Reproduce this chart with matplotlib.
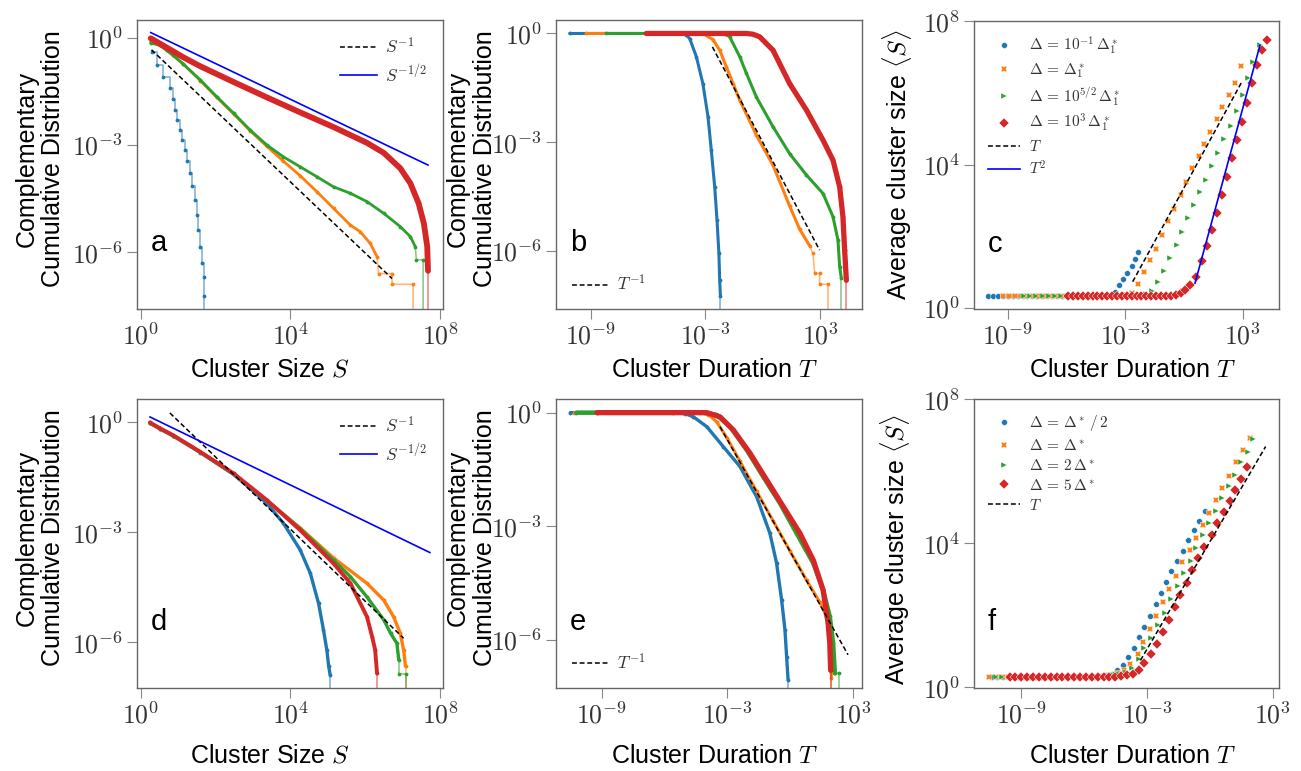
import numpy as np
import matplotlib.pyplot as plt
from matplotlib.ticker import FixedLocator, FuncFormatter, NullLocator

plt.rcParams['font.family'] = ['Liberation Sans', 'DejaVu Sans']
plt.rcParams['mathtext.fontset'] = 'cm'

C_BLUE, C_ORANGE, C_GREEN, C_RED = '#1f77b4', '#ff7f0e', '#2ca02c', '#d62728'

# ---------------- panel a : CCDF of cluster size (log10 values) ----------------
a_blue_logS = [0.30, 0.43, 0.60, 0.78, 0.86, 0.92, 0.98, 1.05, 1.11, 1.18, 1.25, 1.32, 1.38,
               1.45, 1.50, 1.54, 1.58, 1.63, 1.69, 1.69, 1.69]
a_blue_logP = [-0.39, -0.76, -1.09, -1.41, -1.72, -2.02, -2.30, -2.58, -2.86, -3.14, -3.46, -3.79,
               -4.15, -4.54, -4.95, -5.38, -5.85, -6.31, -6.68, -7.22, -12]
a_orange_logS = [0.27, 0.52, 0.70, 0.87, 1.14, 1.59, 2.03, 2.48, 2.92, 3.37, 3.81, 4.26, 4.71,
                 5.15, 5.60, 5.86, 6.13, 6.31, 6.35, 6.71, 6.71, 7.27, 7.27]
a_orange_logP = [-0.11, -0.22, -0.36, -0.50, -0.74, -1.20, -1.67, -2.13, -2.60, -3.04, -3.45,
                 -3.86, -4.31, -4.77, -5.24, -5.42, -5.75, -6.12, -6.59, -6.59, -6.89, -6.89, -12]
a_green_logS = [0.27, 0.52, 0.70, 0.87, 1.14, 1.59, 2.03, 2.48, 2.92, 3.37, 3.81, 4.26, 4.71,
                5.15, 5.60, 6.04, 6.49, 6.93, 7.20, 7.33, 7.36, 7.54, 7.54]
a_green_logP = [-0.15, -0.22, -0.36, -0.50, -0.74, -1.18, -1.65, -2.11, -2.58, -3.00, -3.33,
                -3.61, -3.89, -4.17, -4.35, -4.58, -4.91, -5.28, -5.56, -5.84, -6.21, -6.21, -12]
a_red_logS = [0.27, 0.70, 1.14, 1.59, 2.48, 3.37, 4.26, 5.15, 6.04, 6.49, 6.93, 7.20, 7.42,
              7.56, 7.65, 7.67, 7.67]
a_red_logP = [-0.02, -0.28, -0.55, -0.80, -1.24, -1.67, -2.09, -2.50, -2.94, -3.22, -3.65, -4.07,
              -4.63, -5.19, -5.84, -6.51, -12]
a_ref1_logS, a_ref1_logP = [0.29, 6.71], [-0.34, -6.73]
a_ref2_logS, a_ref2_logP = [0.27, 7.67], [0.14, -3.56]

# ---------------- panel b : CCDF of cluster duration ----------------
b_blue_logT = [-10.10, -4.35, -4.00, -3.82, -3.47, -3.13, -2.86, -2.69, -2.51, -2.39, -2.29,
               -2.25, -2.21, -2.21]
b_blue_logP = [0, 0, -0.04, -0.14, -0.64, -1.38, -2.30, -3.21, -4.23, -5.14, -6.06, -6.80,
               -7.24, -12]
b_orange_logT = [-9.23, -3.13, -2.60, -2.25, -1.90, -1.55, -1.20, -0.33, 0.54, 1.41, 1.94, 2.46,
                 2.63, 2.72, 2.98, 2.98, 3.42, 3.42]
b_orange_logP = [0, 0, -0.17, -0.46, -0.92, -1.38, -1.84, -2.80, -3.63, -4.75, -5.40, -5.85,
                 -6.06, -6.61, -6.61, -6.91, -6.91, -12]
b_green_logT = [-8.18, -2.25, -1.95, -1.73, -1.20, -0.85, -0.33, 0.54, 1.41, 2.29, 3.16, 3.68,
                3.94, 4.03, 4.12, 4.12]
b_green_logP = [0, 0, -0.02, -0.09, -0.64, -1.10, -1.75, -2.57, -3.31, -3.90, -4.41, -5.05,
                -5.69, -6.43, -6.75, -12]
b_red_logT = [-6.09, -0.85, -0.51, -0.16, 0.54, 1.41, 2.29, 3.16, 3.68, 4.03, 4.20, 4.29, 4.38,
              4.38]
b_red_logP = [0, 0, -0.02, -0.09, -0.46, -1.38, -2.11, -2.94, -3.49, -4.23, -5.05, -5.97, -6.80,
              -12]
b_ref_logT, b_ref_logP = [-2.63, 2.98], [-0.37, -5.97]

# ---------------- panel c : average cluster size vs duration ----------------
c_blue_logT = [-10.00, -9.75, -9.50, -9.25, -9.00, -8.75, -8.50, -8.25, -8.00, -7.75, -7.50,
               -7.25, -7.00, -6.75, -6.50, -6.25, -6.00, -5.75, -5.50, -5.25, -5.00, -4.75,
               -4.50, -4.25, -4.00, -3.75, -3.53, -3.32, -3.13, -2.93, -2.67, -2.50, -2.33]
c_blue_logS = [0.34, 0.34, 0.34, 0.34, 0.34, 0.34, 0.34, 0.34, 0.34, 0.34, 0.34, 0.34, 0.34,
               0.34, 0.34, 0.34, 0.34, 0.34, 0.34, 0.34, 0.34, 0.34, 0.34, 0.34, 0.35, 0.38,
               0.46, 0.65, 0.81, 0.97, 1.18, 1.37, 1.56]
c_orange_logT = [-9.24, -8.94, -8.64, -8.34, -8.04, -7.74, -7.44, -7.14, -6.84, -6.54, -6.24,
                 -5.94, -5.64, -5.34, -5.04, -4.74, -4.44, -4.14, -3.84, -3.54, -3.24, -2.94,
                 -2.64, -2.34, -2.05, -1.74, -1.43, -1.11, -0.80, -0.48, -0.17, 0.13, 0.44,
                 0.75, 1.05, 1.36, 1.67, 1.97, 2.30, 2.60, 2.94]
c_orange_logS = [0.34, 0.34, 0.34, 0.34, 0.34, 0.34, 0.34, 0.34, 0.34, 0.34, 0.34, 0.34, 0.34,
                 0.34, 0.34, 0.34, 0.34, 0.34, 0.34, 0.34, 0.34, 0.36, 0.43, 0.67, 1.00, 1.35,
                 1.64, 2.04, 2.43, 2.78, 3.16, 3.53, 3.90, 4.24, 4.58, 4.92, 5.29, 5.60, 5.94,
                 6.29, 6.75]
c_green_logT = [-8.16, -7.85, -7.54, -7.23, -6.92, -6.61, -6.30, -5.99, -5.68, -5.37, -5.06,
                -4.75, -4.44, -4.13, -3.82, -3.51, -3.20, -2.89, -2.58, -2.27, -1.96, -1.65,
                -1.31, -1.00, -0.71, -0.37, -0.08, 0.22, 0.53, 0.82, 1.13, 1.43, 1.76, 2.06,
                2.39, 2.70, 3.04, 3.29, 3.55, 3.89]
c_green_logS = [0.34, 0.34, 0.34, 0.34, 0.34, 0.34, 0.34, 0.34, 0.34, 0.34, 0.34, 0.34, 0.34,
                0.34, 0.34, 0.34, 0.34, 0.34, 0.34, 0.37, 0.40, 0.49, 0.74, 1.05, 1.41, 1.76,
                2.13, 2.51, 2.88, 3.23, 3.59, 3.96, 4.33, 4.72, 5.08, 5.50, 5.94, 6.41, 6.87,
                7.33]
c_red_logT = [-5.92, -5.67, -5.42, -5.17, -4.92, -4.67, -4.42, -4.17, -3.92, -3.67, -3.42, -3.17,
              -2.92, -2.67, -2.42, -2.17, -1.92, -1.67, -1.42, -1.17, -0.92, -0.67, -0.42, -0.17,
              0.08, 0.33, 0.60, 0.91, 1.16, 1.42, 1.67, 1.93, 2.19, 2.44, 2.70, 2.98, 3.24,
              3.50, 3.72, 3.98, 4.23]
c_red_logS = [0.34, 0.34, 0.34, 0.34, 0.34, 0.34, 0.34, 0.34, 0.34, 0.34, 0.34, 0.34, 0.34,
              0.34, 0.34, 0.34, 0.34, 0.34, 0.34, 0.34, 0.34, 0.35, 0.36, 0.42, 0.52, 0.64,
              0.86, 1.33, 1.74, 2.18, 2.66, 3.16, 3.67, 4.18, 4.69, 5.20, 5.73, 6.27, 6.78,
              7.21, 7.47]
c_refT_logT, c_refT_logS = [-2.62, 2.98], [0.74, 6.33]
c_refT2_logT, c_refT2_logS = [0.57, 3.89], [0.70, 7.33]
c_labels = [r'$\Delta\,=\,10^{-1}\,\Delta_1^*$', r'$\Delta\,=\,\Delta_1^*$',
            r'$\Delta\,=\,10^{5/2}\,\Delta_1^*$', r'$\Delta\,=\,10^{3}\,\Delta_1^*$']

# ---------------- panel d : CCDF of cluster size ----------------
d_blue_logS = [0.25, 0.52, 0.87, 1.59, 2.48, 2.92, 3.37, 3.81, 4.26, 4.53, 4.75, 4.88, 4.97,
               5.02, 5.06, 5.06]
d_blue_logP = [-0.02, -0.18, -0.37, -0.82, -1.42, -1.80, -2.21, -2.75, -3.48, -4.12, -4.94,
               -5.66, -6.21, -6.66, -6.90, -12]
d_orange_logS = [0.25, 0.52, 0.87, 1.59, 2.48, 3.37, 4.26, 5.15, 6.04, 6.49, 6.75, 6.93, 7.02,
                 7.07, 7.07]
d_orange_logP = [-0.02, -0.17, -0.36, -0.81, -1.40, -2.13, -2.88, -3.70, -4.39, -4.85, -5.30,
                 -5.75, -6.21, -6.66, -12]
d_green_logS = [0.25, 0.52, 0.87, 1.59, 2.48, 3.37, 4.26, 5.15, 5.60, 6.04, 6.49, 6.67, 6.84,
                6.89, 6.89, 7.07, 7.07]
d_green_logP = [-0.02, -0.17, -0.36, -0.81, -1.40, -2.13, -2.90, -3.76, -4.21, -4.76, -5.39,
                -5.75, -6.03, -6.48, -6.86, -6.86, -12]
d_red_logS = [0.25, 0.52, 0.87, 1.59, 2.48, 3.37, 4.26, 5.15, 5.60, 6.04, 6.18, 6.26, 6.31, 6.31]
d_red_logP = [0.00, -0.16, -0.35, -0.80, -1.39, -2.12, -2.94, -3.85, -4.39, -5.30, -5.85, -6.21,
              -6.85, -12]
d_ref1_logS, d_ref1_logP = [0.78, 7.02], [0.26, -5.89]
d_ref2_logS, d_ref2_logP = [0.25, 7.72], [0.15, -3.55]

# ---------------- panel e : CCDF of cluster duration ----------------
e_blue_logT = [-10.49, -5.57, -5.00, -4.62, -3.98, -3.19, -2.40, -1.60, -0.97, -0.65, -0.41,
               -0.25, -0.17, -0.10, -0.10]
e_blue_logP = [0, 0, -0.03, -0.11, -0.37, -0.90, -1.42, -2.22, -3.18, -3.97, -4.94, -5.73,
               -6.44, -7.05, -12]
e_orange_logT = [-10.30, -4.30, -3.90, -3.50, -3.00, -2.40, -1.60, -0.81, -0.01, 0.78, 1.41,
                 1.70, 1.81, 1.89, 1.93, 1.97, 1.97]
e_orange_logP = [0, 0, -0.05, -0.25, -0.68, -1.28, -2.08, -2.86, -3.65, -4.42, -5.00, -5.35,
                 -5.60, -6.09, -6.60, -7.00, -12]
e_green_logT = [-10.20, -4.10, -3.50, -2.87, -2.08, -1.29, -0.49, 0.30, 1.10, 1.57, 1.89, 2.05,
                2.13, 2.32, 2.32]
e_green_logP = [0, 0, -0.06, -0.37, -0.98, -1.69, -2.39, -3.18, -3.97, -4.68, -5.38, -6.09,
                -6.88, -6.88, -12]
e_red_logT = [-9.22, -3.98, -3.35, -2.71, -1.92, -1.12, -0.33, 0.46, 1.10, 1.57, 1.81, 1.89,
              1.93, 1.93]
e_red_logP = [0, 0, -0.11, -0.46, -1.07, -1.78, -2.48, -3.18, -3.89, -4.68, -5.56, -6.09, -6.80,
              -12]
e_ref_logT, e_ref_logP = [-3.35, 2.76], [-0.37, -6.39]

# ---------------- panel f : average cluster size vs duration ----------------
f_blue_logT = [-10.41, -10.15, -9.89, -9.63, -9.37, -9.11, -8.85, -8.59, -8.33, -8.07, -7.81,
               -7.55, -7.29, -7.03, -6.77, -6.51, -6.25, -5.99, -5.73, -5.47, -5.21, -4.95,
               -4.69, -4.43, -4.16, -3.91, -3.64, -3.37, -3.13, -2.87, -2.60, -2.35, -2.09,
               -1.84, -1.57, -1.30, -1.04, -0.78, -0.54, -0.26]
f_blue_logS = [0.30, 0.30, 0.30, 0.30, 0.30, 0.30, 0.30, 0.30, 0.30, 0.30, 0.30, 0.30, 0.30,
               0.30, 0.30, 0.30, 0.30, 0.30, 0.30, 0.30, 0.31, 0.33, 0.38, 0.49, 0.61, 0.84,
               1.10, 1.40, 1.69, 1.99, 2.31, 2.62, 2.92, 3.24, 3.52, 3.80, 4.08, 4.37, 4.62,
               4.90]
f_orange_logT = [-10.52, -10.20, -9.88, -9.56, -9.24, -8.92, -8.60, -8.28, -7.96, -7.64, -7.32,
                 -7.00, -6.68, -6.36, -6.04, -5.72, -5.40, -5.08, -4.76, -4.44, -4.12, -3.80,
                 -3.45, -3.19, -2.87, -2.56, -2.24, -1.94, -1.62, -1.32, -0.97, -0.66, -0.35,
                 -0.03, 0.27, 0.58, 0.91, 1.23, 1.56, 1.90]
f_orange_logS = [0.30, 0.30, 0.30, 0.30, 0.30, 0.30, 0.30, 0.30, 0.30, 0.30, 0.30, 0.30, 0.30,
                 0.30, 0.30, 0.30, 0.30, 0.31, 0.34, 0.40, 0.48, 0.66, 0.93, 1.26, 1.62, 1.99,
                 2.36, 2.74, 3.10, 3.47, 3.82, 4.16, 4.51, 4.85, 5.21, 5.55, 5.87, 6.25, 6.59,
                 6.92]
f_green_logT = [-10.23, -9.92, -9.61, -9.30, -8.99, -8.68, -8.37, -8.06, -7.75, -7.44, -7.13,
                -6.82, -6.51, -6.20, -5.89, -5.58, -5.27, -4.96, -4.65, -4.34, -4.03, -3.72,
                -3.40, -3.13, -2.81, -2.49, -2.17, -1.85, -1.54, -1.25, -0.93, -0.65, -0.35,
                -0.06, 0.26, 0.58, 0.89, 1.18, 1.49, 1.80, 2.06]
f_green_logS = [0.30, 0.30, 0.30, 0.30, 0.30, 0.30, 0.30, 0.30, 0.30, 0.30, 0.30, 0.30, 0.30,
                0.30, 0.30, 0.30, 0.30, 0.30, 0.33, 0.36, 0.42, 0.54, 0.79, 1.09, 1.37, 1.72,
                2.06, 2.45, 2.82, 3.17, 3.52, 3.86, 4.22, 4.56, 4.90, 5.25, 5.58, 5.90, 6.25,
                6.53, 6.90]
f_red_logT = [-9.56, -9.28, -9.00, -8.72, -8.44, -8.16, -7.88, -7.60, -7.32, -7.04, -6.76, -6.48,
              -6.20, -5.92, -5.64, -5.36, -5.08, -4.80, -4.52, -4.24, -3.96, -3.68, -3.40, -3.13,
              -2.81, -2.52, -2.26, -1.95, -1.66, -1.41, -1.12, -0.84, -0.57, -0.27, 0.07, 0.34,
              0.66, 0.93, 1.21, 1.49, 1.77]
f_red_logS = [0.30, 0.30, 0.30, 0.30, 0.30, 0.30, 0.30, 0.30, 0.30, 0.30, 0.30, 0.30, 0.30,
              0.30, 0.30, 0.30, 0.30, 0.30, 0.30, 0.32, 0.34, 0.38, 0.47, 0.68, 0.93, 1.21,
              1.54, 1.88, 2.23, 2.57, 2.91, 3.25, 3.59, 3.91, 4.24, 4.56, 4.88, 5.19, 5.48,
              5.78, 6.11]
f_ref_logT, f_ref_logS = [-3.32, 2.65], [0.75, 6.69]
f_labels = [r'$\Delta\,=\,\Delta^* \,/\, 2$', r'$\Delta\,=\,\Delta^*$',
            r'$\Delta\,=\,2\,\Delta^*$', r'$\Delta\,=\,5\,\Delta^*$']

CCDF_LABEL = 'Complementary\nCumulative Distribution'
AVG_LABEL = r'Average cluster size $\langle S \rangle$'
DASH = (0, (3.2, 1.8))


def p10(v):
    return 10.0 ** np.asarray(v, dtype=float)


def setup(ax, xlim, ylim, xticks, yticks):
    ax.set_xscale('log')
    ax.set_yscale('log')
    ax.set_xlim(10.0 ** xlim[0], 10.0 ** xlim[1])
    ax.set_ylim(10.0 ** ylim[0], 10.0 ** ylim[1])
    fmt = FuncFormatter(lambda v, p: r'$10^{%d}$' % round(np.log10(v)))
    for axis, ticks in ((ax.xaxis, xticks), (ax.yaxis, yticks)):
        axis.set_major_locator(FixedLocator([10.0 ** k for k in ticks]))
        axis.set_minor_locator(NullLocator())
        axis.set_major_formatter(fmt)
    ax.tick_params(length=7, width=0.8, color='#888888', labelcolor='#333333',
                   labelsize=18.5, pad=3)
    for s in ax.spines.values():
        s.set_color('#666666')
        s.set_linewidth(1.0)


def ccdf(ax, lx, ly, color, lw, tail=1, step=False):
    x, y = p10(lx), p10(ly)
    n = len(x)
    ds = 'steps-post' if step else 'default'
    if n - tail > 1:
        ax.plot(x[:n - tail], y[:n - tail], color=color, lw=lw, drawstyle=ds,
                solid_capstyle='round', solid_joinstyle='round')
    ax.plot(x[n - tail - 1:], y[n - tail - 1:], color=color, lw=1.2, alpha=0.55,
            drawstyle=ds)
    ax.plot(x[:-1], y[:-1], ls='none', marker='.', ms=3.5, color=color)


def markers(ax, lx, ly, color, m, ms, label):
    ax.plot(p10(lx), p10(ly), ls='none', marker=m, ms=ms, color=color, mec='white',
            mew=0.3, label=label)


def letter(ax, s):
    ax.text(0.045, 0.2, s, transform=ax.transAxes, fontsize=21, va='baseline')


fig = plt.figure(figsize=(13.01, 7.71), dpi=100)
ax_a = fig.add_axes([0.1055, 0.5988, 0.2347, 0.3752])
ax_b = fig.add_axes([0.4276, 0.5988, 0.2347, 0.3752])
ax_c = fig.add_axes([0.7489, 0.5988, 0.2344, 0.3743])
ax_d = fig.add_axes([0.1055, 0.1080, 0.2347, 0.3740])
ax_e = fig.add_axes([0.4276, 0.1080, 0.2347, 0.3740])
ax_f = fig.add_axes([0.7489, 0.1080, 0.2344, 0.3740])

# ---- a ----
ccdf(ax_a, a_blue_logS, a_blue_logP, C_BLUE, 1.2, tail=len(a_blue_logS) - 1, step=True)
ccdf(ax_a, a_orange_logS, a_orange_logP, C_ORANGE, 2.0, tail=5)
ccdf(ax_a, a_green_logS, a_green_logP, C_GREEN, 2.0, tail=3)
ccdf(ax_a, a_red_logS, a_red_logP, C_RED, 4.2, tail=1)
ax_a.plot(p10(a_ref1_logS), p10(a_ref1_logP), color='black', lw=1.1, ls=DASH, label=r'$S^{-1}$')
ax_a.plot(p10(a_ref2_logS), p10(a_ref2_logP), color='blue', lw=1.2, label=r'$S^{-1/2}$')

# ---- b ----
ccdf(ax_b, b_blue_logT, b_blue_logP, C_BLUE, 2.2, tail=1)
ccdf(ax_b, b_orange_logT, b_orange_logP, C_ORANGE, 2.2, tail=6)
ccdf(ax_b, b_green_logT, b_green_logP, C_GREEN, 2.2, tail=1)
ccdf(ax_b, b_red_logT, b_red_logP, C_RED, 3.8, tail=1)
ax_b.plot(p10(b_ref_logT), p10(b_ref_logP), color='black', lw=1.1, ls=DASH, label=r'$T^{-1}$')

# ---- c ----
markers(ax_c, c_blue_logT, c_blue_logS, C_BLUE, 'o', 4.2, c_labels[0])
markers(ax_c, c_orange_logT, c_orange_logS, C_ORANGE, 'X', 5.0, c_labels[1])
markers(ax_c, c_green_logT, c_green_logS, C_GREEN, '>', 5.0, c_labels[2])
markers(ax_c, c_red_logT, c_red_logS, C_RED, 'D', 4.6, c_labels[3])
ax_c.plot(p10(c_refT_logT), p10(c_refT_logS), color='black', lw=1.1, ls=DASH, label=r'$T$')
ax_c.plot(p10(c_refT2_logT), p10(c_refT2_logS), color='blue', lw=1.2, label=r'$T^2$')

# ---- d ----
ccdf(ax_d, d_blue_logS, d_blue_logP, C_BLUE, 2.4, tail=1)
ccdf(ax_d, d_orange_logS, d_orange_logP, C_ORANGE, 2.4, tail=1)
ccdf(ax_d, d_green_logS, d_green_logP, C_GREEN, 2.4, tail=3)
ccdf(ax_d, d_red_logS, d_red_logP, C_RED, 2.8, tail=1)
ax_d.plot(p10(d_ref1_logS), p10(d_ref1_logP), color='black', lw=1.1, ls=DASH, label=r'$S^{-1}$')
ax_d.plot(p10(d_ref2_logS), p10(d_ref2_logP), color='blue', lw=1.2, label=r'$S^{-1/2}$')

# ---- e ----
ccdf(ax_e, e_blue_logT, e_blue_logP, C_BLUE, 2.4, tail=1)
ccdf(ax_e, e_orange_logT, e_orange_logP, C_ORANGE, 2.2, tail=1)
ccdf(ax_e, e_green_logT, e_green_logP, C_GREEN, 3.2, tail=2)
ccdf(ax_e, e_red_logT, e_red_logP, C_RED, 3.8, tail=1)
ax_e.plot(p10(e_ref_logT), p10(e_ref_logP), color='black', lw=1.1, ls=DASH, label=r'$T^{-1}$')

# ---- f ----
markers(ax_f, f_blue_logT, f_blue_logS, C_BLUE, 'o', 4.2, f_labels[0])
markers(ax_f, f_orange_logT, f_orange_logS, C_ORANGE, 'X', 5.0, f_labels[1])
markers(ax_f, f_green_logT, f_green_logS, C_GREEN, '>', 5.0, f_labels[2])
markers(ax_f, f_red_logT, f_red_logS, C_RED, 'D', 4.6, f_labels[3])
ax_f.plot(p10(f_ref_logT), p10(f_ref_logS), color='black', lw=1.1, ls=DASH, label=r'$T$')

setup(ax_a, (-0.09, 8.06), (-7.59, 0.49), [0, 4, 8], [0, -3, -6])
setup(ax_b, (-10.8, 5.18), (-7.60, 0.37), [-9, -3, 3], [0, -3, -6])
setup(ax_c, (-10.72, 4.88), (-0.03, 8.02), [-9, -3, 3], [0, 4, 8])
setup(ax_d, (-0.09, 8.06), (-7.24, 0.63), [0, 4, 8], [0, -3, -6])
setup(ax_e, (-11.16, 3.41), (-7.26, 0.35), [-9, -3, 3], [0, -3, -6])
setup(ax_f, (-11.24, 3.30), (-0.01, 8.00), [-9, -3, 3], [0, 4, 8])

big_leg = dict(frameon=False, fontsize=12.5, labelcolor='#333333', handlelength=2.1,
               handletextpad=0.5, labelspacing=0.35)
small_leg = dict(frameon=False, fontsize=11, labelcolor='#333333', handlelength=2.1,
                 handletextpad=0.6, labelspacing=0.32)
ax_a.legend(loc='upper right', **big_leg)
ax_d.legend(loc='upper right', **big_leg)
ax_b.legend(loc='lower left', **big_leg)
ax_e.legend(loc='lower left', **big_leg)
ax_c.legend(loc='upper left', **small_leg)
ax_f.legend(loc='upper left', **small_leg)

for ax, s in zip([ax_a, ax_b, ax_c, ax_d, ax_e, ax_f], 'abcdef'):
    letter(ax, s)

for ax, xl, xc, yc_top in [(ax_a, 'Cluster Size $S$', 0.436, -0.168),
                           (ax_b, 'Cluster Duration $T$', 0.52, -0.168),
                           (ax_c, 'Cluster Duration $T$', 0.52, -0.168),
                           (ax_d, 'Cluster Size $S$', 0.436, -0.195),
                           (ax_e, 'Cluster Duration $T$', 0.52, -0.195),
                           (ax_f, 'Cluster Duration $T$', 0.52, -0.195)]:
    ax.set_xlabel(xl, fontsize=18)
    ax.xaxis.set_label_coords(xc, yc_top)

for ax, yl, xc, yc in [(ax_a, CCDF_LABEL, -0.236, 0.52), (ax_b, CCDF_LABEL, -0.194, 0.52),
                       (ax_c, AVG_LABEL, -0.198, 0.50), (ax_d, CCDF_LABEL, -0.236, 0.52),
                       (ax_e, CCDF_LABEL, -0.194, 0.52), (ax_f, AVG_LABEL, -0.205, 0.48)]:
    ax.set_ylabel(yl, fontsize=18, linespacing=1.15)
    ax.yaxis.set_label_coords(xc, yc)

fig.savefig('out.png', dpi=100)
